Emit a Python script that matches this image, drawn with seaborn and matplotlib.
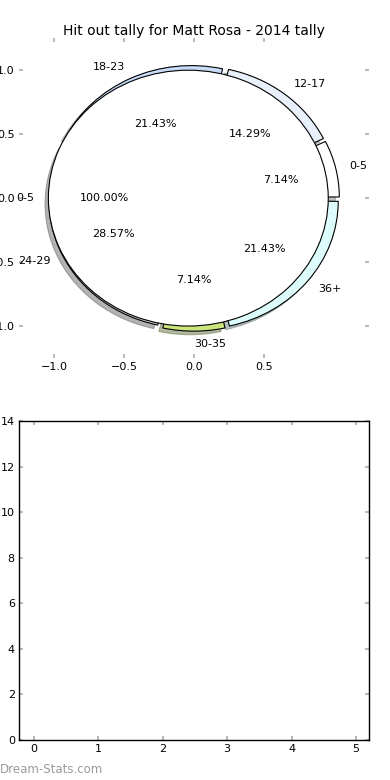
import matplotlib
matplotlib.use("Agg")
import matplotlib.pyplot as plt
import seaborn as sns

# hit out tally by age group (outer ring) and the single inner slice
age_groups = ["0-5", "12-17", "18-23", "24-29", "30-35", "36+"]
hit_outs = [1, 2, 3, 4, 1, 3]
group_colors = ["#ffffff", "#e8f0fc", "#c8dcf8", "#d0d0d0", "#cce47c", "#dcfcfc"]
inner_label = ["0-5"]
inner_value = [100]

pie_xticks = [-1.0, -0.5, 0.0, 0.5]
pie_yticks = [-1.0, -0.5, 0.0, 0.5, 1.0]
bar_xticks = [0, 1, 2, 3, 4, 5]
bar_yticks = [0, 2, 4, 6, 8, 10, 12, 14]

sns.set_style("white", rc={"text.color": "black", "axes.labelcolor": "black",
                           "xtick.color": "black", "ytick.color": "black"})
plt.rcParams["font.family"] = ["DejaVu Sans"]

fig = plt.figure(figsize=(3.9, 7.8), dpi=100)
ax_pie = fig.add_axes([0.0487, 0.541, 0.897, 0.410])
ax_bar = fig.add_axes([0.0487, 0.0513, 0.897, 0.409])

edge = {"edgecolor": "black", "linewidth": 0.8}
shadow = {"ox": -0.02, "oy": -0.02, "shade": 0.5}

ax_pie.pie(hit_outs, labels=age_groups, colors=group_colors, autopct="%1.2f%%",
           explode=[0.04] * len(hit_outs), shadow=shadow, startangle=0,
           wedgeprops=edge, textprops={"fontsize": 8, "color": "black"})
ax_pie.pie(inner_value, labels=inner_label, colors=["white"], autopct="%1.2f%%",
           explode=[0.04], shadow=False, startangle=0,
           wedgeprops=edge, textprops={"fontsize": 8, "color": "black"})

ax_pie.set_aspect("auto")
ax_pie.set_xlim(-1.25, 1.25)
ax_pie.set_ylim(-1.25, 1.25)
ax_pie.set_frame_on(False)
ax_pie.set_xticks(pie_xticks)
ax_pie.set_yticks(pie_yticks)
ax_pie.set_title("Hit out tally for Matt Rosa - 2014 tally", fontsize=10, pad=2,
                 color="black")

ax_bar.set_xlim(-0.233, 5.2)
ax_bar.set_ylim(0, 14)
ax_bar.set_xticks(bar_xticks)
ax_bar.set_yticks(bar_yticks)
for side in ax_bar.spines.values():
    side.set_color("black")
    side.set_linewidth(1.0)

for ax in (ax_pie, ax_bar):
    ax.tick_params(direction="in", length=3, width=1.5, color="#bbbbbb",
                   labelcolor="black", labelsize=8, pad=3, top=True, right=True,
                   bottom=True, left=True)

fig.text(0.0, 0.005, "Dream-Stats.com", color="#9a9a9a", fontsize=8.5,
         ha="left", va="bottom")

fig.savefig("out.png", dpi=100)
